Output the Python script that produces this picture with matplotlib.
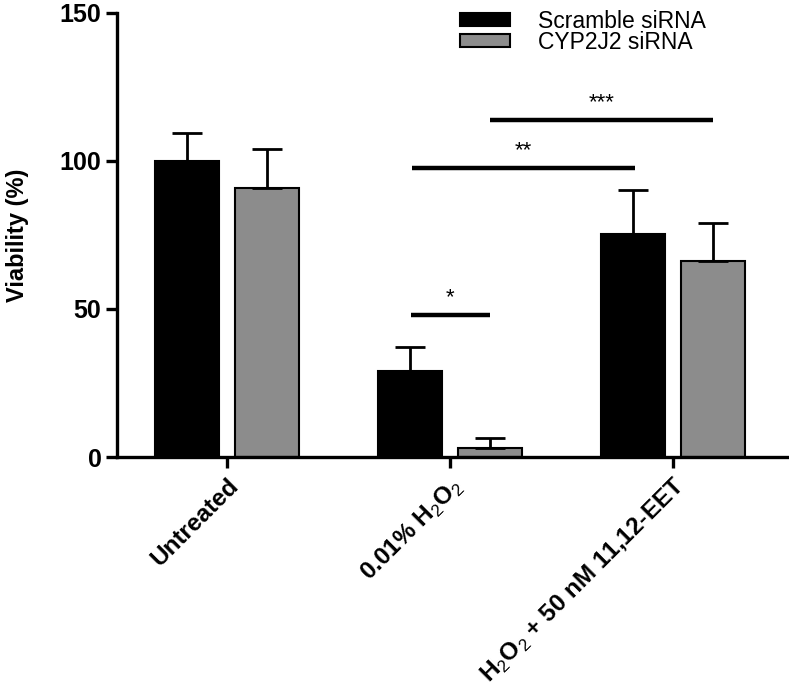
import matplotlib.pyplot as plt
import numpy as np

plt.rcParams['font.family'] = ['Liberation Sans', 'DejaVu Sans']
plt.rcParams['mathtext.fontset'] = 'custom'
plt.rcParams['mathtext.rm'] = 'Liberation Sans'
plt.rcParams['mathtext.bf'] = 'Liberation Sans:bold'

groups = ['Untreated', r'0.01% H$_{\mathrm{2}}$O$_{\mathrm{2}}$',
          r'H$_{\mathrm{2}}$O$_{\mathrm{2}}$ + 50 nM 11,12-EET']
series = ['Scramble siRNA', 'CYP2J2 siRNA']
scramble = [100, 29.2, 75.2]
scramble_err = [9.5, 8.0, 15.0]
cyp = [90.8, 2.9, 66.1]
cyp_err = [13.3, 3.5, 12.8]
yticks = [0, 50, 100, 150]

# significance bars: (x start, x end, y, label)
sig = [(0.825, 1.18, 48.0, '*'),
       (0.83, 1.83, 97.6, '**'),
       (1.18, 2.18, 113.9, '***')]

fig = plt.figure(figsize=(7.89, 6.93), dpi=100)
ax = fig.add_axes([0.148, 0.3405, 0.852, 0.641])

x = np.arange(len(groups))
w = 0.287
off = 0.18
ekw = dict(elinewidth=2, capthick=2, capsize=11, ecolor='black')
ax.bar(x - off, scramble, w, color='black', edgecolor='black', linewidth=1.5,
       yerr=[np.zeros(3), scramble_err], error_kw=ekw, label=series[0], zorder=2)
ax.bar(x + off, cyp, w, color='#8c8c8c', edgecolor='black', linewidth=1.5,
       yerr=[np.zeros(3), cyp_err], error_kw=ekw, label=series[1], zorder=2)

for x0, x1, y, lab in sig:
    ax.plot([x0, x1], [y, y], color='black', lw=3.2, solid_capstyle='butt')
    ax.text((x0 + x1) / 2, y + 4, lab, ha='center', va='baseline', fontsize=16)

ax.set_xlim(-0.493, 2.52)
ax.set_ylim(0, 150)
ax.set_yticks(yticks)
ax.set_yticklabels([str(v) for v in yticks], fontsize=18, fontweight='bold')
ax.set_xticks(x)
ax.set_xticklabels(groups, fontsize=17.5, fontweight='bold', rotation=45,
                   ha='right', rotation_mode='anchor')
ax.set_ylabel('Viability (%)', fontsize=17, fontweight='bold', labelpad=22)

for s in ['top', 'right']:
    ax.spines[s].set_visible(False)
for s in ['left', 'bottom']:
    ax.spines[s].set_linewidth(2.4)
ax.tick_params(axis='both', direction='out', length=8, width=2.4, pad=3)
ax.tick_params(axis='x', pad=4)

ax.legend(loc='upper left', bbox_to_anchor=(0.48, 1.053), frameon=False,
          fontsize=16.5, handlelength=2.2, handleheight=0.5,
          labelspacing=-0.1, handletextpad=1.2)

fig.savefig('out.png', dpi=100)
